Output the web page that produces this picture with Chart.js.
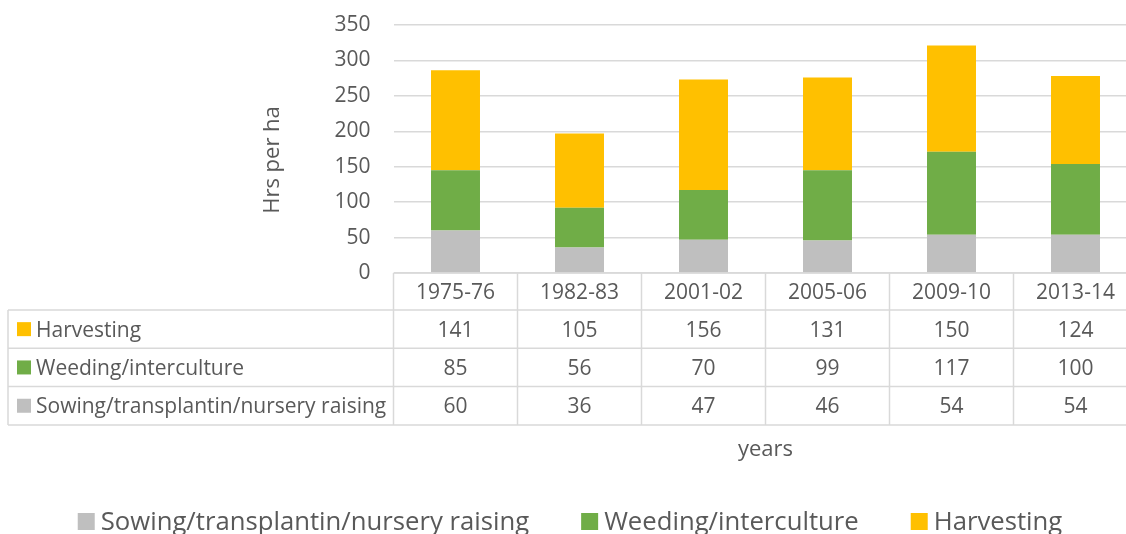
<!DOCTYPE html>
<html>
<head>
<meta charset="utf-8">
<script src="https://cdn.jsdelivr.net/npm/chart.js@4"></script>
<style>
  html, body { margin: 0; padding: 0; overflow: hidden; background: #fff; }
  #wrap { position: absolute; left: 0; top: 0; width: 1140px; height: 534px; }
</style>
</head>
<body>
<div id="wrap"><canvas id="laborChart" width="1140" height="534"></canvas></div>
<script>
// chart values
const categories = ['1975-76', '1982-83', '2001-02', '2005-06', '2009-10', '2013-14'];
const sowing = [60, 36, 47, 46, 54, 54];
const weeding = [85, 56, 70, 99, 117, 100];
const harvesting = [141, 105, 156, 131, 150, 124];
const seriesNames = ['Sowing/transplantin/nursery raising', 'Weeding/interculture', 'Harvesting'];
const yTicks = [0, 50, 100, 150, 200, 250, 300, 350];

const textColor = '#595959';
const lineColor = '#d9d9d9';
const fontFamily = '"Open Sans", "Noto Sans", sans-serif';

// data table under the plot, axis titles and legend
const extrasPlugin = {
  id: 'extras',
  afterDraw(chart) {
    const { ctx, chartArea, scales: { x } } = chart;
    const top = chartArea.bottom;
    const headBottom = 310;
    const rowH = 38.3;
    const tableLeft = 8;
    const cw = x.getPixelForValue(1) - x.getPixelForValue(0);

    ctx.save();
    ctx.strokeStyle = lineColor;
    ctx.lineWidth = 1.5;

    // horizontal lines
    ctx.beginPath();
    ctx.moveTo(chartArea.left, top);
    ctx.lineTo(chartArea.right, top);
    for (let r = 0; r <= 3; r++) {
      const y = headBottom + r * rowH;
      ctx.moveTo(tableLeft, y);
      ctx.lineTo(chartArea.right, y);
    }
    // vertical lines
    const bottom = headBottom + 3 * rowH;
    ctx.moveTo(tableLeft, headBottom);
    ctx.lineTo(tableLeft, bottom);
    ctx.moveTo(chartArea.left, top);
    ctx.lineTo(chartArea.left, bottom);
    categories.forEach((c, i) => {
      const xr = x.getPixelForValue(i) + cw / 2;
      ctx.moveTo(xr, top);
      ctx.lineTo(xr, bottom);
    });
    ctx.stroke();

    // header row
    ctx.fillStyle = textColor;
    ctx.font = '21px ' + fontFamily;
    ctx.textAlign = 'center';
    ctx.textBaseline = 'alphabetic';
    categories.forEach((c, i) => {
      ctx.fillText(c, x.getPixelForValue(i), 298.5);
    });

    // data rows, top row is the last dataset
    const order = [2, 1, 0];
    order.forEach((di, r) => {
      const ds = chart.data.datasets[di];
      const cy = headBottom + r * rowH + rowH / 2;
      ctx.fillStyle = ds.backgroundColor;
      ctx.fillRect(17, cy - 7, 14, 14);
      ctx.fillStyle = textColor;
      ctx.textAlign = 'left';
      ctx.fillText(ds.label, 36, cy + 7.5);
      ctx.textAlign = 'center';
      ds.data.forEach((v, i) => {
        ctx.fillText(String(v), x.getPixelForValue(i), cy + 7.5);
      });
    });

    // axis titles
    ctx.font = '22px ' + fontFamily;
    ctx.textAlign = 'center';
    ctx.fillText('years', (chartArea.left + chartArea.right) / 2, 456);
    ctx.save();
    ctx.translate(279, 160);
    ctx.rotate(-Math.PI / 2);
    ctx.fillText('Hrs per ha', 0, 0);
    ctx.restore();

    // legend
    ctx.font = '25.7px ' + fontFamily;
    const box = 17, boxGap = 6, itemGap = 52;
    const widths = chart.data.datasets.map(ds => ctx.measureText(ds.label).width);
    const total = widths.reduce((a, w) => a + box + boxGap + w, 0) + itemGap * (widths.length - 1);
    let lx = chart.width / 2 - total / 2;
    ctx.textAlign = 'left';
    chart.data.datasets.forEach((ds, i) => {
      ctx.fillStyle = ds.backgroundColor;
      ctx.fillRect(lx, 513, box, box);
      ctx.fillStyle = textColor;
      ctx.fillText(ds.label, lx + box + boxGap, 530);
      lx += box + boxGap + widths[i] + itemGap;
    });
    ctx.restore();
  }
};

const ctx = document.getElementById('laborChart').getContext('2d');
new Chart(ctx, {
  type: 'bar',
  data: {
    labels: categories,
    datasets: [
      { label: seriesNames[0], data: sowing, backgroundColor: '#bfbfbf' },
      { label: seriesNames[1], data: weeding, backgroundColor: '#70ad47' },
      { label: seriesNames[2], data: harvesting, backgroundColor: '#ffc000' }
    ]
  },
  options: {
    responsive: false,
    animation: false,
    layout: { padding: { left: 0, right: 2.5, top: 25, bottom: 261 } },
    datasets: { bar: { categoryPercentage: 1, barPercentage: 0.395 } },
    plugins: {
      legend: { display: false },
      tooltip: { enabled: false }
    },
    scales: {
      x: {
        stacked: true,
        display: false
      },
      y: {
        stacked: true,
        min: 0,
        max: 350,
        afterFit: s => {
          s.width = 393.5;
          s.paddingTop = 0;
          s.paddingBottom = 0;
        },
        afterBuildTicks: s => { s.ticks = yTicks.map(v => ({ value: v })); },
        border: { display: false },
        grid: { color: lineColor, lineWidth: 1.5, drawTicks: false },
        ticks: {
          padding: 23,
          color: textColor,
          font: { family: fontFamily, size: 21 }
        }
      }
    }
  },
  plugins: [extrasPlugin]
});
</script>
</body>
</html>
